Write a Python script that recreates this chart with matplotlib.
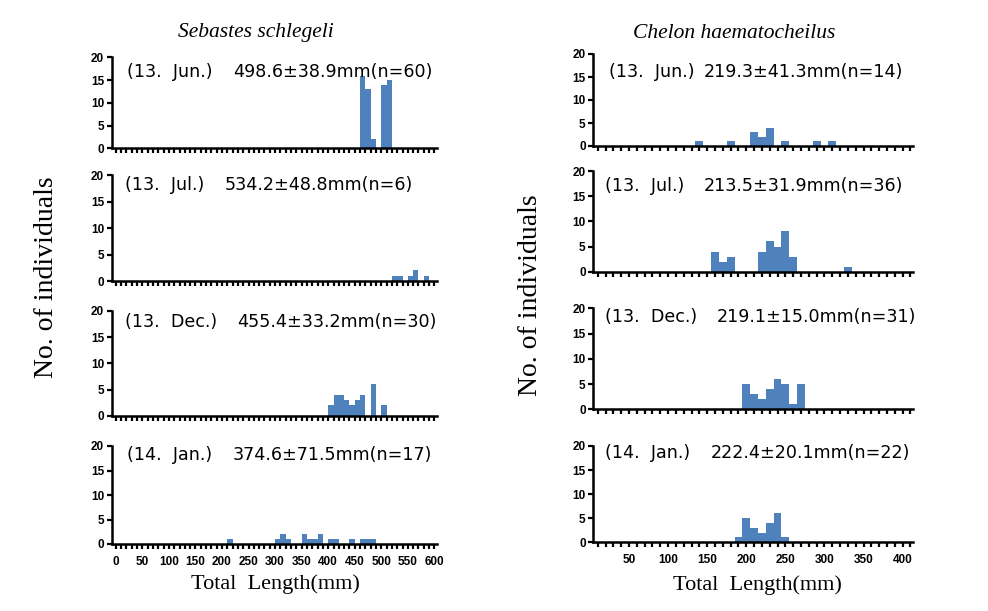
import matplotlib
matplotlib.use('Agg')
import matplotlib.pyplot as plt
import numpy as np

# -----------------------------
# data (bin start / bin value, counts)
# -----------------------------
months = ['(13.  Jun.)', '(13.  Jul.)', '(13.  Dec.)', '(14.  Jan.)']

# Sebastes schlegeli, 10 mm bins (left edge)
ss_jun_bins = [460, 470, 480, 500, 510]
ss_jun_cnt = [16, 13, 2, 14, 15]
ss_jul_bins = [520, 530, 550, 560, 580]
ss_jul_cnt = [1, 1, 1, 2, 1]
ss_dec_bins = [400, 410, 420, 430, 440, 450, 460, 480, 500]
ss_dec_cnt = [2, 4, 4, 3, 2, 3, 4, 6, 2]
ss_jan_bins = [210, 300, 310, 320, 350, 360, 370, 380, 400, 410, 440, 460, 470, 480]
ss_jan_cnt = [1, 1, 2, 1, 2, 1, 1, 2, 1, 1, 1, 1, 1, 1]
ss_stats = ['498.6\u00b138.9mm(n=60)', '534.2\u00b148.8mm(n=6)',
            '455.4\u00b133.2mm(n=30)', '374.6\u00b171.5mm(n=17)']

# Chelon haematocheilus, 10 mm classes (class value)
ch_jun_bins = [140, 180, 210, 220, 230, 250, 290, 310]
ch_jun_cnt = [1, 1, 3, 2, 4, 1, 1, 1]
ch_jul_bins = [160, 170, 180, 220, 230, 240, 250, 260, 330]
ch_jul_cnt = [4, 2, 3, 4, 6, 5, 8, 3, 1]
ch_dec_bins = [200, 210, 220, 230, 240, 250, 260, 270]
ch_dec_cnt = [5, 3, 2, 4, 6, 5, 1, 5]
ch_jan_bins = [190, 200, 210, 220, 230, 240, 250]
ch_jan_cnt = [1, 5, 3, 2, 4, 6, 1]
ch_stats = ['219.3\u00b141.3mm(n=14)', '213.5\u00b131.9mm(n=36)',
            '219.1\u00b115.0mm(n=31)', '222.4\u00b120.1mm(n=22)']

ss_bins = [ss_jun_bins, ss_jul_bins, ss_dec_bins, ss_jan_bins]
ss_cnts = [ss_jun_cnt, ss_jul_cnt, ss_dec_cnt, ss_jan_cnt]
ch_bins = [ch_jun_bins, ch_jul_bins, ch_dec_bins, ch_jan_bins]
ch_cnts = [ch_jun_cnt, ch_jul_cnt, ch_dec_cnt, ch_jan_cnt]

# -----------------------------
# layout (pixels of a 988x611 figure)
# -----------------------------
W, H = 988, 611
left_x = (111.7, 436.7)
right_x = (593.3, 913.0)
left_y = [(148.3, 57.3), (281, 175), (416, 310.7), (544, 446)]
right_y = [(146, 54), (271.7, 171), (409.3, 308.3), (542.3, 446)]
# label start, stats end, text centre y
left_txt = [(126.7, 432.7, 71.7), (125, 413, 185), (125, 436, 321.7), (126.7, 431.7, 455)]
right_txt = [(609.3, 903.3, 71.7), (605, 903, 185.7), (605, 916, 316.7), (605, 910, 453.3)]

bar_color = '#4F81BD'
txt_font = ['DejaVu Sans']
tick_font = 'Liberation Sans'
txt_size = 12.6

fig = plt.figure(figsize=(W / 100, H / 100), dpi=100)


def make_axes(xpix, ypix):
    x0, x1 = xpix
    yb, yt = ypix
    return fig.add_axes([x0 / W, 1 - yb / H, (x1 - x0) / W, (yb - yt) / H])


def style(ax, xlim, ticks, labels, show_labels):
    ax.set_xlim(*xlim)
    ax.set_ylim(0, 20)
    ax.set_yticks([0, 5, 10, 15, 20])
    ax.set_xticks(ticks)
    if show_labels:
        ax.set_xticklabels(labels)
    else:
        ax.set_xticklabels([''] * len(ticks))
    for s in ['top', 'right']:
        ax.spines[s].set_visible(False)
    ax.spines['left'].set_linewidth(1.8)
    ax.spines['bottom'].set_linewidth(1.8)
    ax.tick_params(axis='both', direction='out', length=3.5, width=1.6, pad=2)
    ax.tick_params(axis='x', pad=5)
    for lab in ax.get_xticklabels() + ax.get_yticklabels():
        lab.set_fontfamily(tick_font)
        lab.set_fontweight('bold')
        lab.set_fontsize(8.5)


def put_text(x1, x2, yy, label, stats):
    fig.text(x1 / W, 1 - yy / H, label, fontsize=txt_size, family=txt_font,
             ha='left', va='center')
    fig.text(x2 / W, 1 - yy / H, stats, fontsize=txt_size, family=txt_font,
             ha='right', va='center')


# left column: Sebastes schlegeli
ss_ticks = list(range(0, 601, 10))
ss_labels = [str(t) if t % 50 == 0 else '' for t in ss_ticks]
for i in range(4):
    ax = make_axes(left_x, left_y[i])
    ax.bar(ss_bins[i], ss_cnts[i], width=10, align='edge', color=bar_color, linewidth=0)
    style(ax, (-7.7, 604.3), ss_ticks, ss_labels, i == 3)
    put_text(*left_txt[i], months[i], ss_stats[i])

# right column: Chelon haematocheilus
ch_ticks = list(range(10, 411, 10))
ch_labels = [str(t) if t % 50 == 0 else '' for t in ch_ticks]
for i in range(4):
    ax = make_axes(right_x, right_y[i])
    ax.bar(ch_bins[i], ch_cnts[i], width=10, align='center', color=bar_color, linewidth=0)
    style(ax, (4.35, 413.3), ch_ticks, ch_labels, i == 3)
    put_text(*right_txt[i], months[i], ch_stats[i])

# titles and axis labels
serif = ['Liberation Serif', 'DejaVu Serif']
fig.text(256 / W, 1 - 33 / H, 'Sebastes schlegeli', fontsize=15.5, style='italic',
         family=serif, ha='center', va='center')
fig.text(734 / W, 1 - 33 / H, 'Chelon haematocheilus', fontsize=15.5, style='italic',
         family=serif, ha='center', va='center')
fig.text(47 / W, 1 - 277 / H, 'No. of individuals', fontsize=20, rotation=90,
         family=serif, ha='center', va='center')
fig.text(530 / W, 1 - 295 / H, 'No. of individuals', fontsize=20, rotation=90,
         family=serif, ha='center', va='center')
fig.text(275 / W, 1 - 584 / H, 'Total  Length(mm)', fontsize=16,
         family=serif, ha='center', va='center')
fig.text(757 / W, 1 - 585 / H, 'Total  Length(mm)', fontsize=16,
         family=serif, ha='center', va='center')

fig.savefig('out.png', dpi=100)
plt.close(fig)
